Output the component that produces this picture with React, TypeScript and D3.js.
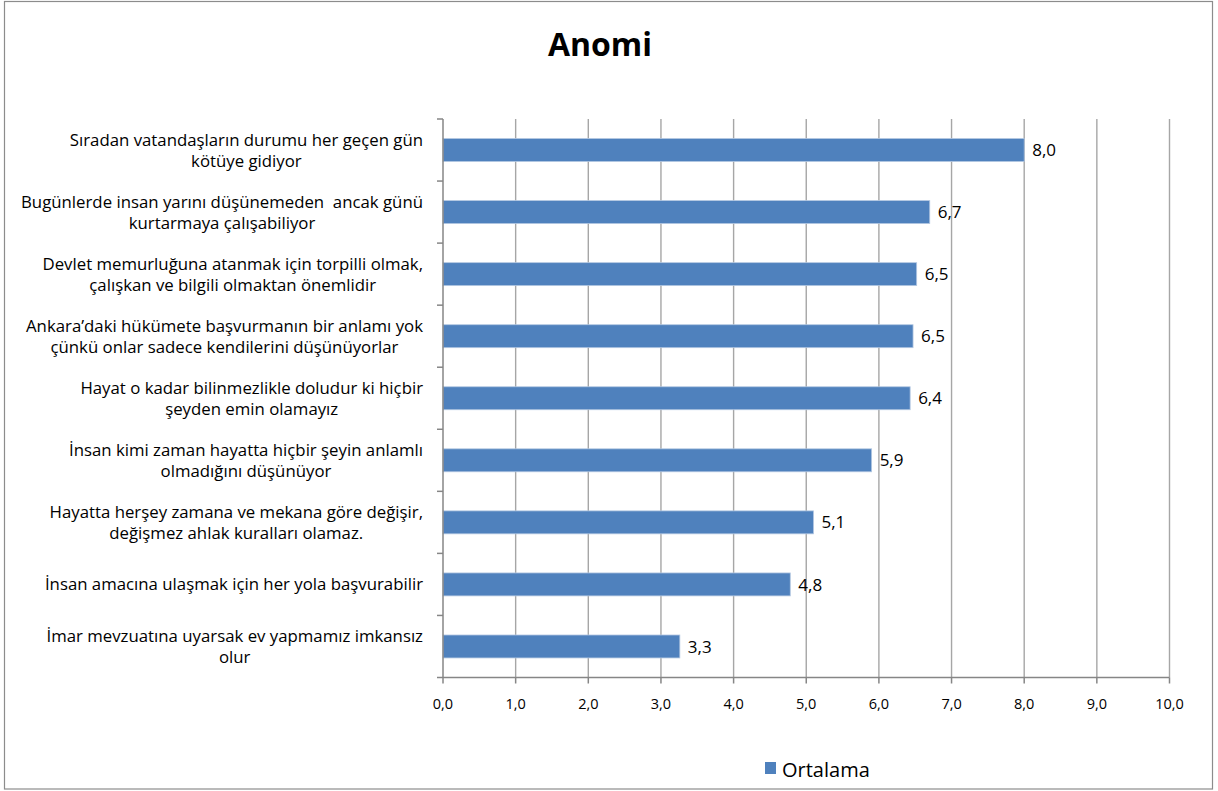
import React, { useEffect, useRef } from 'react';
import * as d3 from 'd3';

const title = 'Anomi';
const seriesName = 'Ortalama';

const categoryLines: string[][] = [
  ['Sıradan vatandaşların durumu her geçen gün', 'kötüye gidiyor'],
  ['Bugünlerde insan yarını düşünemeden  ancak günü', 'kurtarmaya çalışabiliyor'],
  ['Devlet memurluğuna atanmak için torpilli olmak,', 'çalışkan ve bilgili olmaktan önemlidir'],
  ['Ankara’daki hükümete başvurmanın bir anlamı yok', 'çünkü onlar sadece kendilerini düşünüyorlar'],
  ['Hayat o kadar bilinmezlikle doludur ki hiçbir', 'şeyden emin olamayız'],
  ['İnsan kimi zaman hayatta hiçbir şeyin anlamlı', 'olmadığını düşünüyor'],
  ['Hayatta herşey zamana ve mekana göre değişir,', 'değişmez ahlak kuralları olamaz.'],
  ['İnsan amacına ulaşmak için her yola başvurabilir'],
  ['İmar mevzuatına uyarsak ev yapmamız imkansız', 'olur'],
];

const values: number[] = [8.0, 6.7, 6.52, 6.47, 6.43, 5.9, 5.1, 4.78, 3.26];

const xTicks: number[] = [0, 1, 2, 3, 4, 5, 6, 7, 8, 9, 10];

const W = 1218;
const H = 791;
const FONT = '"Open Sans", "Noto Sans", sans-serif';
const BAR = '#4F81BD';

const fmt = (v: number) => v.toFixed(1).replace('.', ',');

export default function App() {
  const ref = useRef<SVGSVGElement | null>(null);

  useEffect(() => {
    const svg = d3.select(ref.current);
    svg.selectAll('*').remove();

    const left = 443;
    const right = 1169.5;
    const top = 119;
    const bottom = 677.5;

    const x = d3.scaleLinear().domain([0, 10]).range([left, right]);
    const y = d3
      .scaleBand<number>()
      .domain(values.map((_, i) => i))
      .range([top, bottom])
      .paddingInner(0.63)
      .paddingOuter(0.315);
    const step = y.step();

    // outer border
    svg
      .append('rect')
      .attr('x', 4.5)
      .attr('y', 1.5)
      .attr('width', 1208)
      .attr('height', 787.5)
      .attr('fill', '#fff')
      .attr('stroke', '#8c8c8c')
      .attr('stroke-width', 1.2);

    // title
    svg
      .append('text')
      .attr('x', 600)
      .attr('y', 56)
      .attr('text-anchor', 'middle')
      .attr('font-family', FONT)
      .attr('font-weight', 'bold')
      .attr('font-size', 32)
      .attr('fill', '#000')
      .text(title);

    // gridlines
    svg
      .append('g')
      .selectAll('line')
      .data(xTicks.slice(1))
      .join('line')
      .attr('x1', (d) => x(d))
      .attr('x2', (d) => x(d))
      .attr('y1', top)
      .attr('y2', bottom)
      .attr('stroke', '#a6a6a6')
      .attr('stroke-width', 1.4);

    // bars
    svg
      .append('g')
      .selectAll('rect')
      .data(values)
      .join('rect')
      .attr('x', x(0))
      .attr('y', (_, i) => y(i) as number)
      .attr('width', (d) => x(d) - x(0))
      .attr('height', y.bandwidth())
      .attr('fill', BAR)
      .attr('stroke', '#b4c8e2')
      .attr('stroke-width', 0.8);

    // value labels
    svg
      .append('g')
      .selectAll('text')
      .data(values)
      .join('text')
      .attr('x', (d) => x(d) + 8)
      .attr('y', (_, i) => (y(i) as number) + y.bandwidth() / 2)
      .attr('dy', '0.36em')
      .attr('font-family', FONT)
      .attr('font-size', 17)
      .attr('fill', '#000')
      .text((d) => fmt(d));

    // axes lines
    const axisColor = '#868686';
    svg
      .append('line')
      .attr('x1', left)
      .attr('x2', left)
      .attr('y1', top)
      .attr('y2', bottom)
      .attr('stroke', axisColor)
      .attr('stroke-width', 1.5);
    svg
      .append('line')
      .attr('x1', left)
      .attr('x2', right)
      .attr('y1', bottom)
      .attr('y2', bottom)
      .attr('stroke', axisColor)
      .attr('stroke-width', 1.5);

    // category ticks
    svg
      .append('g')
      .selectAll('line')
      .data(d3.range(values.length + 1))
      .join('line')
      .attr('x1', left - 6)
      .attr('x2', left)
      .attr('y1', (i) => top + i * step)
      .attr('y2', (i) => top + i * step)
      .attr('stroke', axisColor)
      .attr('stroke-width', 1.5);

    // x ticks
    svg
      .append('g')
      .selectAll('line')
      .data(xTicks)
      .join('line')
      .attr('x1', (d) => x(d))
      .attr('x2', (d) => x(d))
      .attr('y1', bottom)
      .attr('y2', bottom + 6)
      .attr('stroke', axisColor)
      .attr('stroke-width', 1.5);

    svg
      .append('g')
      .selectAll('text')
      .data(xTicks)
      .join('text')
      .attr('x', (d) => x(d))
      .attr('y', 709)
      .attr('text-anchor', 'middle')
      .attr('font-family', FONT)
      .attr('font-size', 14.5)
      .attr('fill', '#000')
      .text((d) => fmt(d));

    // category labels, right-aligned block with centered lines
    const labelRight = 423;
    const lineH = 21;
    const lg = svg.append('g');
    categoryLines.forEach((lines, i) => {
      const cy = (y(i) as number) + y.bandwidth() / 2;
      const g = lg.append('g');
      const texts = lines.map((ln, k) =>
        g
          .append('text')
          .attr('font-family', FONT)
          .attr('font-size', 16.8)
          .attr('fill', '#000')
          .attr('text-anchor', 'middle')
          .style('white-space', 'pre')
          .attr('y', cy + (k - (lines.length - 1) / 2) * lineH)
          .attr('dy', '0.36em')
          .text(ln)
      );
      const maxW = d3.max(texts, (t) => (t.node() as SVGTextElement).getComputedTextLength()) || 0;
      texts.forEach((t) => t.attr('x', labelRight - maxW / 2));
    });

    // legend
    svg
      .append('rect')
      .attr('x', 765)
      .attr('y', 762)
      .attr('width', 11)
      .attr('height', 12)
      .attr('fill', BAR);
    svg
      .append('text')
      .attr('x', 782)
      .attr('y', 777)
      .attr('font-family', FONT)
      .attr('font-size', 20)
      .attr('fill', '#000')
      .text(seriesName);
  }, []);

  return (
    <svg
      ref={ref}
      width={W}
      height={H}
      style={{ position: 'absolute', left: 0, top: 0, background: '#fff' }}
    />
  );
}
